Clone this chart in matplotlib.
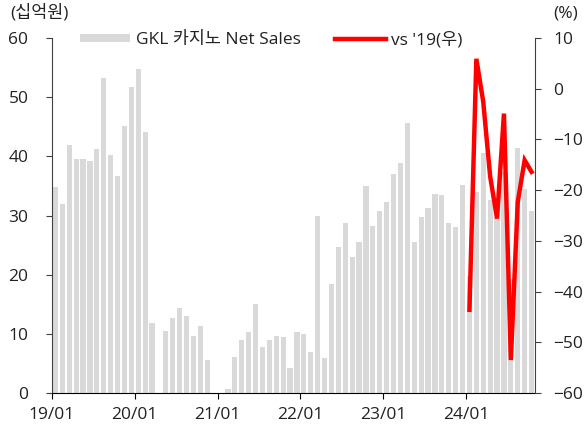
import matplotlib

matplotlib.use("Agg")
import matplotlib.pyplot as plt
import numpy as np

plt.rcParams["font.family"] = ["Open Sans", "Noto Sans CJK KR", "DejaVu Sans"]

# monthly GKL casino net sales (KRW bn), 2019/01 .. 2024/10
sales = [
    34.9, 32.0, 41.9, 39.5, 39.6, 39.2, 41.3, 53.2, 40.2, 36.7, 45.2, 51.7,  # 2019
    54.8, 44.1, 11.8, 0.0, 10.5, 12.6, 14.4, 13.0, 9.6, 11.3, 5.6, 0.0,      # 2020
    0.0, 0.7, 6.1, 9.0, 10.3, 15.0, 7.7, 9.0, 9.6, 9.4, 4.2, 10.3,           # 2021
    9.9, 7.0, 29.9, 5.9, 18.4, 24.6, 28.8, 23.0, 25.5, 35.0, 28.3, 30.7,     # 2022
    32.2, 37.0, 38.9, 45.7, 25.5, 29.7, 31.3, 33.6, 33.5, 28.8, 28.1, 35.1,  # 2023
    19.8, 33.9, 40.6, 32.6, 29.6, 37.3, 19.3, 41.4, 34.5, 30.7,              # 2024
]
# vs same month of 2019 (%), 2024/01 .. 2024/10
vs19 = [-43.6, 5.9, -2.6, -17.3, -25.6, -4.9, -53.5, -22.3, -14.1, -16.4]
vs19_start = 60
year_labels = ["19/01", "20/01", "21/01", "22/01", "23/01", "24/01"]

BAR = "#d9d9d9"
RED = "#ff0000"
TXT = "#222222"
FS = 12.5

fig = plt.figure(figsize=(5.87, 4.28), dpi=100)
ax = fig.add_axes([52 / 587, 35 / 428, 483 / 587, 355 / 428])
ax2 = ax.twinx()

x = np.arange(len(sales))
bars = ax.bar(x, sales, width=0.74, color=BAR, zorder=1)
xr = np.arange(vs19_start, vs19_start + len(vs19))
line, = ax2.plot(xr, vs19, color=RED, linewidth=3.2, solid_joinstyle="miter")

ax.set_xlim(-0.5, len(sales) - 0.5)
ax.set_ylim(0, 60)
ax.set_yticks(range(0, 61, 10))
ax2.set_ylim(-60, 10)
ax2.set_yticks(range(-60, 11, 10))

ax.set_xticks(np.arange(len(year_labels)) * 12 - 0.5, year_labels)

for a in (ax, ax2):
    a.spines["top"].set_visible(False)
ax.spines["left"].set_color("#404040")
ax.spines["right"].set_visible(False)
ax2.spines["left"].set_visible(False)
ax2.spines["right"].set_color("#404040")
ax2.spines["bottom"].set_visible(False)
ax.spines["bottom"].set_color("#000000")

ax.tick_params(axis="y", length=4, color="#404040", labelsize=FS, pad=13, labelcolor=TXT)
ax2.tick_params(axis="y", length=4, color="#404040", labelsize=FS, pad=9, labelcolor=TXT)
ax.tick_params(axis="x", length=4, color="#000000", labelsize=FS, pad=6, labelcolor=TXT)

fig.text(10 / 587, 1 - 13 / 428, "(십억원)", fontsize=FS, color=TXT, va="center", ha="left")
fig.text(578 / 587, 1 - 13 / 428, "(%)", fontsize=FS, color=TXT, va="center", ha="right")

fig.legend([bars, line], ["GKL 카지노 Net Sales", "vs '19(우)"], loc="center left",
           bbox_to_anchor=(80 / 587, 1 - 40 / 428), ncol=2, frameon=False, fontsize=FS,
           handlelength=2.9, handleheight=0.35, handletextpad=0.3, columnspacing=2.0,
           borderpad=0, borderaxespad=0, labelcolor=TXT)

fig.savefig("out.png", dpi=100)
